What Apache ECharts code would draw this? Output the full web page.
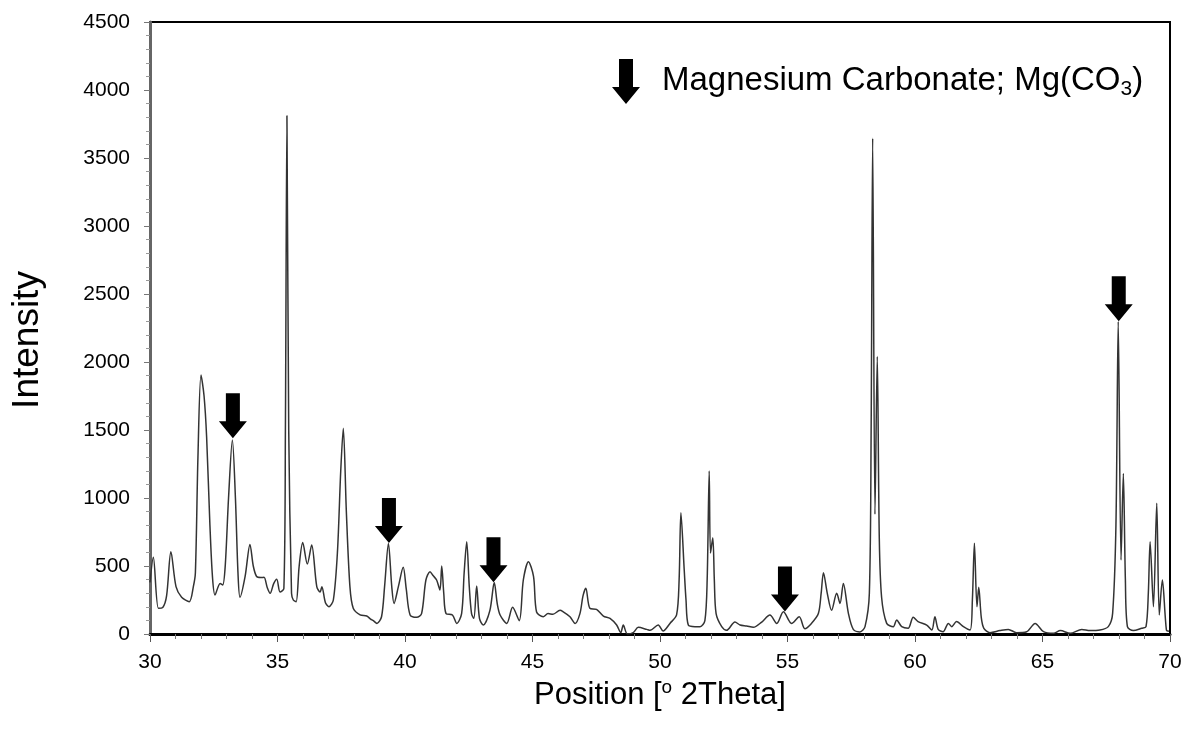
<!DOCTYPE html>
<html>
<head>
<meta charset="utf-8">
<script src="https://cdn.jsdelivr.net/npm/echarts@6/dist/echarts.min.js"></script>
<style>
html,body{margin:0;padding:0;background:#fff;}
#chart{width:1189px;height:745px;}
</style>
</head>
<body>
<div id="chart"></div>
<script>
// ---- data ----
const twoTheta = [
30.0,30.13,30.33,30.5,30.65,30.82,31.02,31.24,31.54,31.7,31.78,31.88,32.0,32.12,32.22,32.35,32.45,32.55,32.75,32.85,
32.95,33.08,33.23,33.35,33.45,33.53,33.73,33.92,34.05,34.18,34.35,34.47,34.6,34.71,34.85,34.97,35.1,35.25,35.31,35.37,
35.44,35.55,35.62,35.73,35.85,35.99,36.17,36.34,36.54,36.67,36.74,36.88,37.02,37.19,37.35,37.48,37.58,37.7,37.84,37.97,
38.24,38.5,38.65,38.76,38.9,39.08,39.2,39.35,39.48,39.57,39.74,39.93,40.05,40.2,40.46,40.65,40.82,40.98,41.1,41.24,
41.37,41.44,41.52,41.61,41.86,42.03,42.22,42.32,42.42,42.52,42.61,42.7,42.81,42.92,43.07,43.33,43.5,43.62,43.73,43.99,
44.22,44.48,44.64,44.84,45.04,45.16,45.42,45.61,45.8,46.08,46.21,46.47,46.67,46.86,46.98,47.09,47.25,47.51,47.78,48.04,
48.3,48.46,48.56,48.72,48.95,49.15,49.48,49.61,49.93,50.12,50.39,50.65,50.75,50.82,50.95,51.02,51.11,51.37,51.57,51.76,
51.85,51.93,51.98,52.07,52.13,52.2,52.42,52.61,52.94,53.14,53.4,53.66,53.99,54.31,54.58,54.84,55.16,55.46,55.68,55.94,
56.21,56.32,56.41,56.56,56.73,56.93,57.06,57.19,57.39,57.58,57.84,58.04,58.21,58.28,58.34,58.43,58.52,58.6,58.69,58.89,
59.15,59.28,59.48,59.73,59.93,60.12,60.46,60.66,60.78,60.91,61.1,61.31,61.44,61.63,61.9,62.16,62.25,62.33,62.43,62.5,
62.6,62.7,62.94,63.33,63.66,63.98,64.38,64.71,65.04,65.44,65.7,66.09,66.54,66.86,67.25,67.58,67.75,67.88,67.97,68.08,
68.17,68.25,68.33,68.56,68.89,69.06,69.15,69.22,69.35,69.48,69.58,69.7,69.86,69.96
];
const intensity = [
380,564,189,195,280,605,348,270,238,348,450,1300,1904,1750,1451,800,420,287,372,360,
500,1000,1426,1000,450,270,423,659,500,423,415,417,340,299,370,402,309,334,1500,3810,
1500,300,250,238,500,672,515,654,348,309,348,230,201,250,600,1200,1512,900,348,189,
140,132,110,98,78,127,350,665,350,225,348,490,330,140,123,150,397,458,430,397,
324,500,300,150,140,78,150,450,679,350,150,115,353,115,66,174,378,220,140,78,
196,98,397,532,423,162,127,150,145,174,162,127,78,150,280,336,189,181,132,115,
66,10,66,0,10,49,34,27,66,22,78,140,400,892,470,250,66,54,54,98,
400,1199,595,708,400,150,54,27,88,66,59,49,88,140,78,164,78,127,39,78,
150,300,451,299,174,299,225,372,150,34,15,54,299,1500,3645,880,2040,700,270,78,
54,103,54,42,123,91,66,29,127,34,17,78,54,91,54,29,250,667,201,343,
120,42,10,25,34,10,17,78,17,5,25,5,34,25,29,54,152,800,2297,544,
1181,400,54,25,42,54,300,679,201,961,140,397,29,20
];
// Peaks marked as Magnesium Carbonate (position, intensity at arrow tip)
const markPos = [33.25, 39.37, 43.47, 54.9, 67.99];
const markVal = [1440, 670, 380, 165, 2300];

const xTicks = [30,35,40,45,50,55,60,65,70];
const yTicks = [0,500,1000,1500,2000,2500,3000,3500,4000,4500];

const lineData = twoTheta.map((t,i)=>[t,intensity[i]]);
const markData = markPos.map((t,i)=>[t,markVal[i]]);

const FONT = '"Liberation Sans", Arial, sans-serif';

function arrowPoints(cx, ty){
  return [[cx,ty],[cx-14,ty-17],[cx-7,ty-17],[cx-7,ty-45],[cx+7,ty-45],[cx+7,ty-17],[cx+14,ty-17]];
}

const chart = echarts.init(document.getElementById('chart'), null, {renderer:'canvas'});
chart.setOption({
  backgroundColor:'#fff',
  animation:false,
  grid:{left:150,right:19,top:22,bottom:111,show:true,borderColor:'#000',borderWidth:2,containLabel:false},
  xAxis:{
    type:'value',min:xTicks[0],max:xTicks[xTicks.length-1],interval:5,
    name:'{a|Position [}{sup|o}{a| 2Theta]}',
    nameLocation:'middle',nameGap:37,
    nameTextStyle:{rich:{
      a:{fontFamily:FONT,fontSize:31,color:'#000'},
      sup:{fontFamily:FONT,fontSize:19,color:'#000',padding:[0,0,16,0]}
    }},
    axisLine:{show:true,onZero:false,lineStyle:{color:'#000',width:3}},
    axisTick:{show:true,inside:false,length:8,lineStyle:{color:'#555',width:1}},
    minorTick:{show:true,splitNumber:5,length:5,lineStyle:{color:'#777',width:1}},
    splitLine:{show:false},
    axisLabel:{margin:18,fontFamily:FONT,fontSize:21,color:'#000',formatter:v=>String(v)}
  },
  yAxis:{
    type:'value',min:yTicks[0],max:yTicks[yTicks.length-1],interval:500,
    name:'Intensity',nameLocation:'middle',nameGap:104,
    nameTextStyle:{fontFamily:FONT,fontSize:37,color:'#000',padding:[0,24,0,0]},
    axisLine:{show:true,lineStyle:{color:'#666',width:3}},
    axisTick:{show:true,inside:false,length:6,lineStyle:{color:'#777',width:1}},
    minorTick:{show:true,splitNumber:5,length:4,lineStyle:{color:'#999',width:1}},
    splitLine:{show:false},
    axisLabel:{margin:20,fontFamily:FONT,fontSize:21,color:'#000',formatter:v=>String(v)}
  },
  graphic:[
    {type:'polygon',shape:{points:arrowPoints(626,104)},style:{fill:'#000'}},
    {type:'text',left:662,top:64,style:{
      text:'{a|Magnesium Carbonate; Mg(CO}{s|3}{a|)}',
      rich:{
        a:{fontFamily:FONT,fontSize:33,color:'#000',lineHeight:40},
        s:{fontFamily:FONT,fontSize:21,color:'#000',padding:[18,0,0,0]}
      }
    }}
  ],
  series:[
    {type:'line',data:lineData,showSymbol:false,smooth:0.3,
     lineStyle:{color:'#333',width:1.5},z:2},
    {type:'custom',data:markData,z:3,
     renderItem:function(params,api){
       const p = api.coord([api.value(0),api.value(1)]);
       return {type:'polygon',shape:{points:arrowPoints(p[0],p[1])},style:{fill:'#000'}};
     }}
  ]
});
</script>
</body>
</html>
